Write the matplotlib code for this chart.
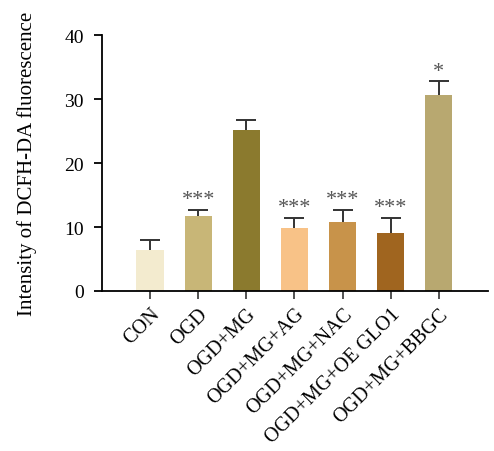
import matplotlib
matplotlib.use("Agg")
import matplotlib.pyplot as plt
import numpy as np

plt.rcParams.update({
    "font.family": ["Liberation Serif", "DejaVu Serif"],
    "font.size": 14,
})

# ── Data ─────────────────────────────────────────────────────────────────────
groups = ["CON", "OGD", "OGD+MG", "OGD+MG+AG", "OGD+MG+NAC",
          "OGD+MG+OE GLO1", "OGD+MG+BBGC"]
means = [6.4, 11.7, 25.2, 9.85, 10.8, 9.05, 30.6]
errs = [1.6, 1.0, 1.6, 1.55, 1.9, 2.35, 2.2]
signif = ["", "***", "", "***", "***", "***", "*"]
colors = ["#F3EBCF", "#C8B677", "#8B7A2E", "#F8C287", "#C8934A",
          "#A0651F", "#B8A870"]

fig = plt.figure(figsize=(4.94, 4.52), dpi=100)
ax = fig.add_axes([0.2065, 0.354, 0.781, 0.566])

x = np.arange(len(groups))
# error bars sit behind the bars so only the upper half shows
ax.errorbar(x, means, yerr=errs, fmt="none", ecolor="#333333",
            elinewidth=1.4, capsize=7, capthick=1.4, zorder=1)
ax.bar(x, means, width=0.57, color=colors, zorder=2)

for xi, m, e, s in zip(x, means, errs, signif):
    if s:
        ax.text(xi, m + e + 0.1, s, ha="center", va="bottom",
                fontsize=16, color="#555555")

ax.set_xlim(-1.0, 7.02)
ax.set_ylim(0, 40)
ax.set_yticks([0, 10, 20, 30, 40])
ax.set_xticks(x)
ax.set_xticklabels(groups, rotation=45, ha="right", rotation_mode="anchor",
                   fontsize=14.5)
ax.set_ylabel("Intensity of DCFH-DA fluorescence", fontsize=15, labelpad=20)

for side in ("top", "right"):
    ax.spines[side].set_visible(False)
for side in ("left", "bottom"):
    ax.spines[side].set_linewidth(1.3)
ax.tick_params(axis="both", direction="out", length=6, width=1.3)
ax.tick_params(axis="y", pad=7)
ax.tick_params(axis="x", color="#444444")

fig.savefig("out.png", dpi=100)
